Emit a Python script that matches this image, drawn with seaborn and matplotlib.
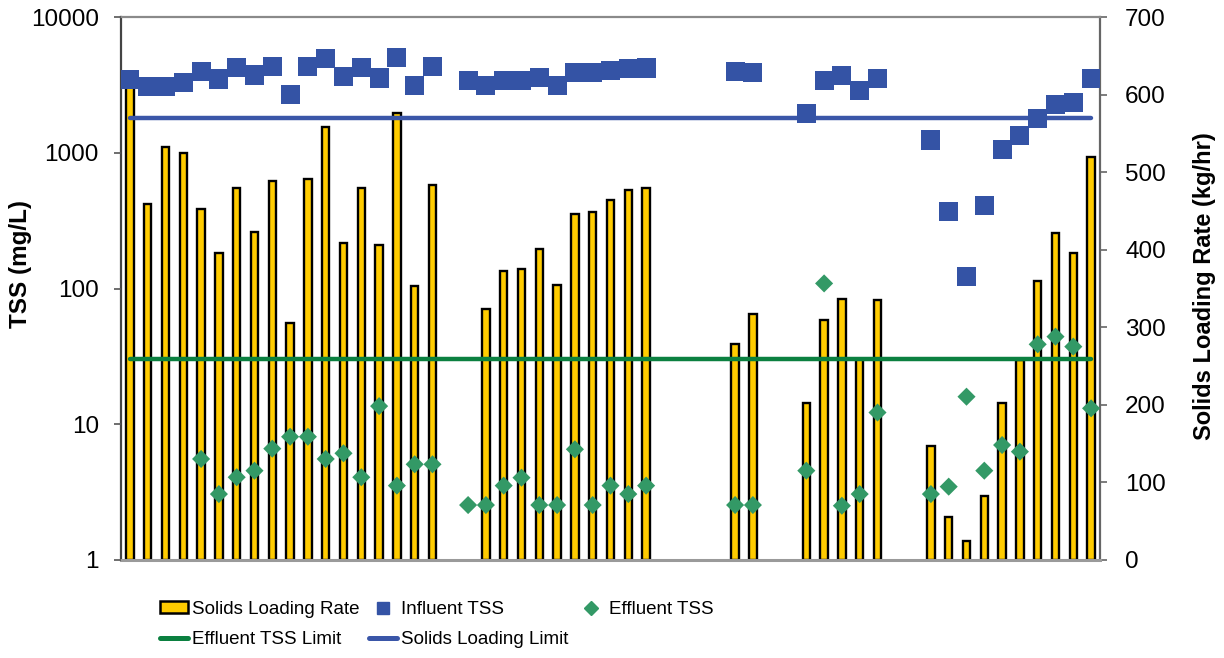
import numpy as np
import pandas as pd
import matplotlib
matplotlib.use("Agg")
import matplotlib.pyplot as plt
import seaborn as sns
from matplotlib.lines import Line2D
from matplotlib.patches import Patch
from matplotlib.ticker import FixedLocator, FixedFormatter, NullLocator

# ---------------- data ----------------
n_slots = 55  # sampling days on the category axis (no labels shown)

bar_days = list(range(0, 18)) + list(range(20, 30)) + [34, 35] + list(range(38, 43)) + list(range(45, 55))
solids_loading_rate = [612, 459, 533, 525, 452, 396, 479, 423, 489, 305, 491, 558, 409, 479, 406, 576, 353, 483,
                       324, 373, 375, 401, 354, 446, 449, 464, 477, 480,
                       279, 317,
                       203, 310, 337, 259, 335,
                       147, 56, 25, 83, 203, 258, 360, 421, 396, 519]

influent_days = list(range(0, 18)) + list(range(19, 30)) + [34, 35] + list(range(38, 43)) + list(range(45, 55))
influent_tss = [3450, 3090, 3090, 3280, 3980, 3490, 4260, 3740, 4330, 2680, 4330, 4930, 3630, 4260, 3550, 5040, 3120, 4300,
                3400, 3150, 3400, 3400, 3560, 3150, 3900, 3900, 4040, 4150, 4210,
                3990, 3900,
                1940, 3390, 3690, 2860, 3530,
                1240, 368, 122, 410, 1050, 1340, 1790, 2280, 2330, 3510]

effluent_days = list(range(4, 18)) + list(range(19, 30)) + [34, 35] + list(range(38, 43)) + list(range(45, 55))
effluent_tss = [5.55, 3.06, 4.07, 4.55, 6.61, 8.09, 8.09, 5.55, 6.11, 4.07, 13.6, 3.53, 5.07, 5.07,
                2.54, 2.54, 3.53, 4.04, 2.54, 2.54, 6.54, 2.54, 3.53, 3.06, 3.53,
                2.54, 2.54,
                4.55, 109, 2.51, 3.06, 12.2,
                3.06, 3.47, 15.96, 4.55, 7.03, 6.28, 38.8, 44.2, 37.3, 13.1]

limit_days = list(range(n_slots))
effluent_tss_limit = 30      # mg/L
solids_loading_limit = 570   # kg/hr

left_ticks = [1, 10, 100, 1000, 10000]
right_ticks = [0, 100, 200, 300, 400, 500, 600, 700]

# ---------------- style ----------------
sns.set_theme(style="white")
plt.rcParams["font.family"] = ["Liberation Sans", "DejaVu Sans"]
plt.rcParams["text.color"] = "black"
plt.rcParams["axes.labelcolor"] = "black"

GOLD = "#FFCC00"
BLUE_SQ = "#3453A5"
GREEN_D = "#339966"
GREEN_L = "#0B8040"
BLUE_L = "#3A56A8"

fig = plt.figure(figsize=(12.24, 6.58), dpi=100)
ax = fig.add_axes([121 / 1224, 1 - 560 / 658, 979 / 1224, 543 / 658])

# bars on the solids-loading (right, linear) axis
sns.barplot(x=bar_days, y=solids_loading_rate, native_scale=True, ax=ax,
            color=GOLD, saturation=1, edgecolor="black", linewidth=1.7, width=0.42, zorder=2)
sns.lineplot(x=limit_days, y=[solids_loading_limit] * len(limit_days), ax=ax,
             color=BLUE_L, linewidth=3.2, zorder=3, legend=False)

# TSS (left, log) axis on top
ax2 = ax.twinx()
ax2.set_yscale("log")
sns.lineplot(x=limit_days, y=[effluent_tss_limit] * len(limit_days), ax=ax2,
             color=GREEN_L, linewidth=3.2, zorder=3, legend=False)
sns.scatterplot(x=influent_days, y=influent_tss, ax=ax2, marker="s", s=190,
                color=BLUE_SQ, edgecolor="none", zorder=4, legend=False)
sns.scatterplot(x=effluent_days, y=effluent_tss, ax=ax2, marker="D", s=85,
                color=GREEN_D, edgecolor="none", zorder=5, legend=False)

# right axis (bars)
ax.set_xlim(-0.5, n_slots - 0.5)
ax.set_ylim(0, 700)
ax.yaxis.tick_right()
ax.yaxis.set_label_position("right")
ax.yaxis.set_major_locator(FixedLocator(right_ticks))
ax.yaxis.set_major_formatter(FixedFormatter([str(t) for t in right_ticks]))
ax.set_xticks([])
ax.set_xlabel("")
ax.set_ylabel("Solids Loading Rate (kg/hr)", fontsize=17, fontweight="bold", color="black")
ax.yaxis.set_label_coords(1.095, 0.505)
ax.tick_params(axis="y", right=True, left=False, labelright=True, labelleft=False,
               direction="out", length=5, width=1.2,
               color="#666666", labelsize=17.5, pad=13, labelcolor="black")
for side, col, lw in [("left", "#444444", 1.6), ("right", "#666666", 1.6),
                      ("top", "#8a8a8a", 1.6), ("bottom", "#9a9a9a", 2.2)]:
    ax.spines[side].set_visible(True)
    ax.spines[side].set_color(col)
    ax.spines[side].set_linewidth(lw)

# left axis (TSS)
ax2.set_ylim(1, 10000)
ax2.set_xlim(-0.5, n_slots - 0.5)
ax2.yaxis.tick_left()
ax2.yaxis.set_label_position("left")
ax2.yaxis.set_major_locator(FixedLocator(left_ticks))
ax2.yaxis.set_major_formatter(FixedFormatter([str(t) for t in left_ticks]))
ax2.yaxis.set_minor_locator(NullLocator())
ax2.set_xlabel("")
ax2.set_ylabel("TSS (mg/L)", fontsize=17.5, fontweight="bold", color="black")
ax2.yaxis.set_label_coords(-0.091, 0.545)
ax2.tick_params(axis="y", left=True, right=False, labelleft=True, labelright=False,
                direction="out", length=5, width=1.2,
                color="#555555", labelsize=17.5, pad=11, labelcolor="black")
for s in ax2.spines.values():
    s.set_visible(False)
ax2.set_xticks([])

# legend
handles = [
    Patch(facecolor=GOLD, edgecolor="black", linewidth=1.8),
    Line2D([], [], color=GREEN_L, linewidth=3.6),
    Line2D([], [], color=BLUE_SQ, marker="s", linestyle="none", markersize=9),
    Line2D([], [], color=BLUE_L, linewidth=3.6),
    Line2D([], [], color=GREEN_D, marker="D", linestyle="none", markersize=7),
]
labels = ["Solids Loading Rate", "Effluent TSS Limit", "Influent TSS",
          "Solids Loading Limit", "Effluent TSS"]
fig.legend(handles, labels, ncol=3, loc="upper left", bbox_to_anchor=(160 / 1224, 1 - 601 / 658),
           frameon=False, prop={"family": "Liberation Sans", "size": 13.5}, labelcolor="black",
           handlelength=1.5, handleheight=0.6, handletextpad=0.2,
           columnspacing=0.5, labelspacing=0.7, borderaxespad=0, borderpad=0)

fig.savefig("out.png", dpi=100)
